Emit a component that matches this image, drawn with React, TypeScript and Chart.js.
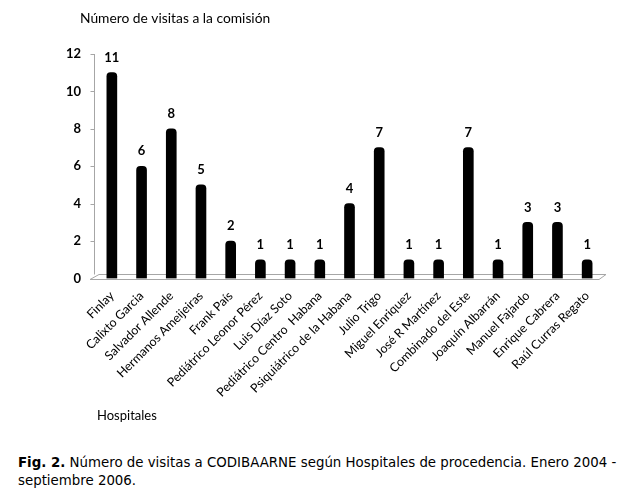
import { useEffect, useRef } from "react";
import { Chart, registerables } from "chart.js";

Chart.register(...registerables);

const hospitals = [
  "Finlay",
  "Calixto Garcia",
  "Salvador Allende",
  "Hermanos Ameijeiras",
  "Frank País",
  "Pediátrico Leonor Pérez",
  "Luis Díaz Soto",
  "Pediátrico Centro  Habana",
  "Psiquiátrico de la Habana",
  "Julio Trigo",
  "Miguel Enriquez",
  "José R Martínez",
  "Combinado del Este",
  "Joaquín Albarrán",
  "Manuel Fajardo",
  "Enrique Cabrera",
  "Raúl Curras Regato",
];
const visits = [11, 6, 8, 5, 2, 1, 1, 1, 4, 7, 1, 1, 7, 1, 3, 3, 1];
const yTicks = [0, 2, 4, 6, 8, 10, 12];

const chartTitle = "Número de visitas a la comisión";
const xTitle = "Hospitales";

const FONT = "Lato";
const GREY = "#a6a6a6";

const floorPlugin = {
  id: "floor3d",
  afterLayout(chart: any) {
    if (chart.titleBlock) {
      const w = chart.titleBlock.right - chart.titleBlock.left;
      chart.titleBlock.left = 80;
      chart.titleBlock.right = 80 + w;
    }
  },
  beforeDatasetsDraw(chart: any) {
    const { ctx, chartArea, scales } = chart;
    const { left, right, top, bottom } = chartArea;
    const ax = Math.round(left - 3) + 0.5;
    const fy = Math.round(bottom) + 0.5;
    const by = Math.round(bottom - 5) + 0.5;
    ctx.save();
    ctx.strokeStyle = GREY;
    ctx.lineWidth = 1;
    ctx.beginPath();
    ctx.moveTo(ax, Math.round(top));
    ctx.lineTo(ax, by);
    const ys = scales.y;
    ys.ticks.forEach((t: any) => {
      const y = Math.round(ys.getPixelForValue(t.value)) + 0.5;
      ctx.moveTo(ax - 4, y);
      ctx.lineTo(ax, y);
    });
    ctx.moveTo(left - 7, fy);
    ctx.lineTo(right - 3, fy);
    ctx.lineTo(right + 4, by);
    ctx.lineTo(left + 2, by);
    ctx.lineTo(left - 7, fy);
    ctx.stroke();
    ctx.restore();
  },
};

const valueLabels = {
  id: "valueLabels",
  afterDatasetsDraw(chart: any) {
    const { ctx } = chart;
    const meta = chart.getDatasetMeta(0);
    const data = chart.data.datasets[0].data;
    ctx.save();
    ctx.font = `bold 13px ${FONT}`;
    ctx.fillStyle = "#000";
    ctx.textAlign = "center";
    ctx.textBaseline = "middle";
    meta.data.forEach((bar: any, i: number) => {
      ctx.fillText(String(data[i]), bar.x, bar.y - 15);
    });
    ctx.restore();
  },
};

export default function App() {
  const canvasRef = useRef<HTMLCanvasElement | null>(null);

  useEffect(() => {
    if (!canvasRef.current) return;
    const chart = new Chart(canvasRef.current, {
      type: "bar",
      data: {
        labels: hospitals,
        datasets: [
          {
            data: visits,
            backgroundColor: "#000",
            barThickness: 10,
            borderRadius: { topLeft: 4, topRight: 4, bottomLeft: 0, bottomRight: 0 },
            borderSkipped: "bottom",
          },
        ],
      },
      options: {
        animation: false,
        responsive: true,
        maintainAspectRatio: false,
        layout: { padding: { left: 50, right: 28, top: 0, bottom: 0 } },
        plugins: {
          legend: { display: false },
          tooltip: { enabled: false },
          title: {
            display: true,
            text: chartTitle,
            align: "start",
            color: "#000",
            font: { family: FONT, size: 13.8, weight: "normal" },
            padding: { top: 10.5, bottom: 26.9 },
          },
        },
        scales: {
          x: {
            grid: { display: false },
            border: { display: false },
            ticks: {
              autoSkip: false,
              minRotation: 45,
              maxRotation: 45,
              padding: 2,
              color: "#000",
              font: { family: FONT, size: 12.4 },
            },
            title: {
              display: true,
              text: xTitle,
              align: "start",
              color: "#000",
              font: { family: FONT, size: 13 },
              padding: { top: 0, bottom: 16 },
            },
            afterFit: (s: any) => {
              s.height = 161.5;
            },
          },
          y: {
            min: 0,
            max: 12,
            grid: { display: false },
            border: { display: false },
            afterBuildTicks: (s: any) => {
              s.ticks = yTicks.map((v) => ({ value: v }));
            },
            ticks: {
              padding: 8,
              color: "#000",
              font: { family: FONT, size: 13, weight: "bold" },
            },
            afterFit: (s: any) => {
              s.width = 47;
            },
          },
        },
      },
      plugins: [floorPlugin, valueLabels],
    });
    return () => chart.destroy();
  }, []);

  return (
    <div style={{ position: "absolute", left: 0, top: 0, width: 630, height: 502, background: "#fff" }}>
      <div style={{ position: "absolute", left: 0, top: 0, width: 630, height: 440 }}>
        <canvas ref={canvasRef} />
      </div>
      <div
        style={{
          position: "absolute",
          left: 18,
          top: 454,
          fontFamily: "'DejaVu Sans', Verdana, sans-serif",
          fontSize: 13.35,
          lineHeight: "18px",
          color: "#000",
          whiteSpace: "nowrap",
        }}
      >
        <b>Fig. 2.</b> Número de visitas a CODIBAARNE según Hospitales de procedencia. Enero 2004 -
        <br />
        septiembre 2006.
      </div>
    </div>
  );
}
